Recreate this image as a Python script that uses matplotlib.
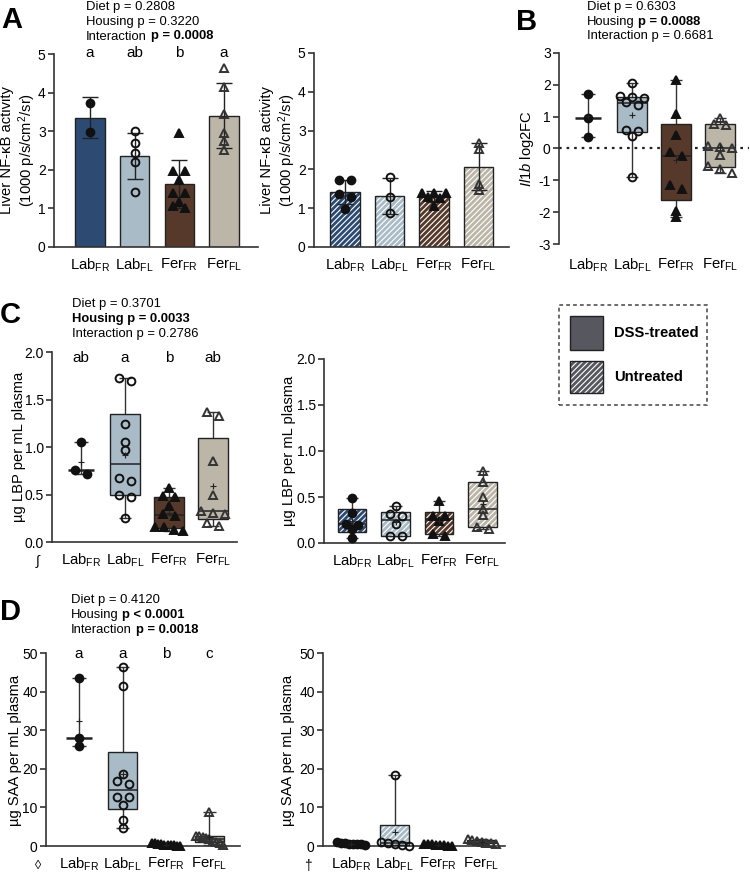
import numpy as np
import matplotlib
matplotlib.use('Agg')
import matplotlib.pyplot as plt
from matplotlib.patches import Rectangle
from matplotlib import transforms as mtrans

plt.rcParams['font.family'] = ['Liberation Sans', 'DejaVu Sans']
plt.rcParams['mathtext.fontset'] = 'custom'
plt.rcParams['mathtext.rm'] = 'Liberation Sans'
plt.rcParams['mathtext.it'] = 'Liberation Sans:italic'
plt.rcParams['mathtext.bf'] = 'Liberation Sans:bold'
plt.rcParams['axes.unicode_minus'] = False
plt.rcParams['hatch.linewidth'] = 0.8

# ---------------- data ----------------
categories = ['Lab$_\\mathregular{FR}$', 'Lab$_\\mathregular{FL}$',
              'Fer$_\\mathregular{FR}$', 'Fer$_\\mathregular{FL}$']
colors = ['#2d4a73', '#a8bbc7', '#56392a', '#bcb6a8']

# Panel A: liver NF-kB activity (bars = mean, error = SD)
a_dss_labfr = [3.72, 2.98]
a_dss_labfl = [3.00, 2.70, 2.44, 2.20, 1.43]
a_dss_ferfr = [2.96, 1.98, 1.98, 1.73, 1.41, 1.41, 1.17, 1.06, 1.00]
a_dss_ferfl = [4.63, 4.14, 3.45, 2.95, 2.75, 2.52]
a_un_labfr = [1.72, 1.72, 1.37, 1.28, 0.98]
a_un_labfl = [1.80, 1.29, 0.87]
a_un_ferfr = [1.40, 1.40, 1.40, 1.28, 1.25, 1.06]
a_un_ferfl = [2.67, 2.53, 1.62, 1.47]
a_letters = ['a', 'ab', 'b', 'a']
a_yticks = [0, 1, 2, 3, 4, 5]

# Panel B: Il1b log2FC
b_labfr = [1.70, 0.97, 0.35]
b_labfl = [2.05, 1.64, 1.63, 1.60, 1.47, 1.38, 0.57, 0.55, 0.38, -0.88]
b_ferfr = [2.14, 1.08, 0.43, -0.12, -0.22, -1.14, -1.26, -1.97, -2.16]
b_ferfl = [0.97, 0.78, 0.75, 0.09, 0.05, 0.01, -0.20, -0.55, -0.64, -0.76]
b_yticks = [-3, -2, -1, 0, 1, 2, 3]

# Panel C: LBP
c_dss_labfr = [1.05, 0.76, 0.72]
c_dss_labfl = [1.73, 1.69, 1.24, 1.05, 0.97, 0.67, 0.64, 0.50, 0.47, 0.25]
c_dss_ferfr = [0.57, 0.48, 0.47, 0.38, 0.30, 0.27, 0.16, 0.16, 0.13, 0.12]
c_dss_ferfl = [1.37, 1.33, 0.85, 0.50, 0.33, 0.31, 0.29, 0.20, 0.17]
c_un_labfr = [0.49, 0.33, 0.21, 0.20, 0.15, 0.05]
c_un_labfl = [0.40, 0.31, 0.29, 0.21, 0.08, 0.08]
c_un_ferfr = [0.46, 0.29, 0.29, 0.24, 0.10, 0.08]
c_un_ferfl = [0.78, 0.66, 0.50, 0.37, 0.30, 0.17, 0.15]
c_letters = ['ab', 'a', 'b', 'ab']
c_yticks = [0.0, 0.5, 1.0, 1.5, 2.0]

# Panel D: SAA
d_dss_labfr = [43.4, 27.85, 25.95]
d_dss_labfl = [46.3, 41.5, 18.6, 16.95, 16.0, 12.8, 12.8, 10.5, 6.75, 4.6]
d_dss_ferfr = [0.9, 0.7, 0.5, 0.45, 0.35, 0.3, 0.2, 0.15, 0.1, 0.05]
d_dss_ferfl = [8.8, 2.7, 2.5, 2.3, 2.0, 1.8, 1.4, 1.1, 0.9, 0.2]
d_un_labfr = [1.0, 0.8, 0.7, 0.6, 0.5, 0.5, 0.4, 0.3]
d_un_labfl = [18.4, 1.1, 0.9, 0.6, 0.3, 0.1]
d_un_ferfr = [0.6, 0.5, 0.4, 0.3, 0.3, 0.2, 0.1, 0.05]
d_un_ferfl = [1.8, 1.5, 1.2, 1.0, 0.9, 0.7, 0.5]
d_letters = ['a', 'a', 'b', 'c']
d_yticks = [0, 10, 20, 30, 40, 50]

p_A = [[('Diet p = 0.2808', False)], [('Housing p = 0.3220', False)],
       [('Interaction', False), ('p = 0.0008', True)]]
p_B = [[('Diet p = 0.6303', False)], [('Housing', False), ('p = 0.0088', True)],
       [('Interaction p = 0.6681', False)]]
p_C = [[('Diet p = 0.3701', False)], [('Housing p = 0.0033', True)],
       [('Interaction p = 0.2786', False)]]
p_D = [[('Diet p = 0.4120', False)], [('Housing', False), ('p < 0.0001', True)],
       [('Interaction', False), ('p = 0.0018', True)]]

# ---------------- styling ----------------
W, H = 750, 872
fig = plt.figure(figsize=(W / 100, H / 100), dpi=100)
EC = '#222222'
SPC = '#333333'
TICK_FS = 10
CAT_FS = 10.7
LAB_FS = 10.6
P_FS = 9.4
markers = [dict(marker='o', mfc='#111111', mec='#111111'),
           dict(marker='o', mfc='none', mec='#111111'),
           dict(marker='^', mfc='#111111', mec='#111111'),
           dict(marker='^', mfc='none', mec='#333333')]


def mk_ax(x0, x1, yt, yb, c0, sp, ylim, yticks, yticklabels, bottom_spine=True):
    ax = fig.add_axes([x0 / W, 1 - yb / H, (x1 - x0) / W, (yb - yt) / H])
    ax.set_xlim((x0 - c0) / sp, (x1 - c0) / sp)
    ax.set_ylim(*ylim)
    for s in ['top', 'right']:
        ax.spines[s].set_visible(False)
    ax.spines['left'].set_color(SPC)
    ax.spines['left'].set_linewidth(1.2)
    ax.spines['bottom'].set_color(SPC)
    ax.spines['bottom'].set_linewidth(1.2)
    if not bottom_spine:
        ax.spines['bottom'].set_visible(False)
    ax.set_yticks(yticks)
    ax.set_yticklabels(yticklabels, fontsize=TICK_FS)
    ax.tick_params(axis='y', length=4, width=1.2, color=SPC, pad=2)
    ax.set_xticks(range(4))
    ax.set_xticklabels(categories, fontsize=CAT_FS)
    ax.tick_params(axis='x', length=0, pad=7)
    ax._px = (sp, (yb - yt) / (ylim[1] - ylim[0]))
    return ax


def swarm_x(ax, vals, center, spacing=12.0, maxw=28.0, thresh=4.0):
    ppx, ppy = ax._px
    v = np.asarray(vals, float)
    order = np.argsort(-v)
    xs = np.zeros(len(v))
    clusters = []
    cur = [order[0]]
    for k in order[1:]:
        if (v[cur[-1]] - v[k]) * ppy < thresh:
            cur.append(k)
        else:
            clusters.append(cur)
            cur = [k]
    clusters.append(cur)
    for cl in clusters:
        m = len(cl)
        s = spacing if m == 1 else min(spacing, maxw / (m - 1))
        offs = (np.arange(m) - (m - 1) / 2) * s
        for k, o in zip(cl, offs):
            xs[k] = center + o / ppx
    return xs


def points(ax, i, vals, maxw=28.0):
    xs = swarm_x(ax, vals, i, maxw=maxw)
    ax.plot(xs, vals, ls='none', ms=5.6, mew=1.4, zorder=5, clip_on=False, **markers[i])


def bar_group(ax, groups, hatched):
    bw = 0.66
    for i, vals in enumerate(groups):
        v = np.asarray(vals)
        m, sd = v.mean(), v.std(ddof=1)
        if hatched:
            ax.bar(i, m, width=bw, color=colors[i], edgecolor='white', hatch='//////', lw=0, zorder=1)
            ax.bar(i, m, width=bw, fill=False, edgecolor=EC, lw=1.0, zorder=2)
        else:
            ax.bar(i, m, width=bw, color=colors[i], edgecolor=EC, lw=1.0, zorder=1)
        ax.errorbar(i, m, yerr=sd, fmt='none', ecolor=EC, elinewidth=1.0, capsize=5.5, capthick=1.0, zorder=3)
        points(ax, i, vals, maxw=26)


def box_group(ax, groups, hatched):
    bw = 0.66
    for i, vals in enumerate(groups):
        v = np.asarray(vals, float)
        mn, mx, mean = v.min(), v.max(), v.mean()
        if len(v) <= 3:
            med = np.median(v)
            ax.vlines(i, mn, mx, color=SPC, lw=1.0, zorder=2)
            ax.hlines([mn, mx], i - 0.16, i + 0.16, color=SPC, lw=1.0, zorder=2)
            ax.hlines(med, i - 0.30, i + 0.30, color=EC, lw=1.8, zorder=3)
            ax.plot(i, mean, marker='+', color=EC, ms=5, mew=0.8, zorder=6)
        else:
            q1, med, q3 = np.percentile(v, [25, 50, 75], method='weibull')
            ax.vlines(i, mn, mx, color=SPC, lw=1.0, zorder=1)
            ax.hlines([mn, mx], i - 0.14, i + 0.14, color=SPC, lw=1.0, zorder=1)
            if hatched:
                ax.bar(i, q3 - q1, bottom=q1, width=bw, color=colors[i], edgecolor='white',
                       hatch='//////', lw=0, zorder=2)
                ax.bar(i, q3 - q1, bottom=q1, width=bw, fill=False, edgecolor=EC, lw=1.0, zorder=3)
            else:
                ax.bar(i, q3 - q1, bottom=q1, width=bw, color=colors[i], edgecolor=EC, lw=1.0, zorder=2)
            ax.hlines(med, i - bw / 2, i + bw / 2, color=EC, lw=1.1, zorder=3)
            ax.plot(i, mean, marker='+', color=EC, ms=5, mew=0.8, zorder=6)
        points(ax, i, vals, maxw=28)


def sig_letters(ax, letters, base_px):
    tr = mtrans.blended_transform_factory(ax.transData, fig.transFigure)
    for i, l in enumerate(letters):
        ax.text(i, 1 - base_px / H, l, transform=tr, ha='center', va='baseline', fontsize=11)


renderer = fig.canvas.get_renderer()


def ptext(x_px, base_pxs, lines):
    space = 0.278 * P_FS * 100 / 72
    for yb, parts in zip(base_pxs, lines):
        x = x_px
        for s, b in parts:
            t = fig.text(x / W, 1 - yb / H, s, fontsize=P_FS, fontweight='bold' if b else 'normal',
                         ha='left', va='baseline')
            bb = t.get_window_extent(renderer)
            x = bb.x1 + space


def ftext(x_px, y_px, s, **kw):
    return fig.text(x_px / W, 1 - y_px / H, s, **kw)


# ---------------- Panel A ----------------
axA1 = mk_ax(54, 258, 54, 247, 90, 44.7, (0, 5), a_yticks, [str(t) for t in a_yticks])
bar_group(axA1, [a_dss_labfr, a_dss_labfl, a_dss_ferfr, a_dss_ferfl], hatched=False)
sig_letters(axA1, a_letters, 57)
axA2 = mk_ax(314, 509, 53, 247, 345, 44.5, (0, 5), a_yticks, [str(t) for t in a_yticks])
bar_group(axA2, [a_un_labfr, a_un_labfl, a_un_ferfr, a_un_ferfl], hatched=True)
ylabA = 'Liver NF-\u03baB activity\n(1000 p/s/cm$^2$/sr)'
ftext(19, 150, ylabA, rotation=90, ha='center', va='center', fontsize=LAB_FS, linespacing=1.1)
ftext(279, 150, ylabA, rotation=90, ha='center', va='center', fontsize=LAB_FS, linespacing=1.1)
ftext(1, 28, 'A', fontsize=21, fontweight='bold', ha='left', va='baseline')
ptext(86, [10, 25, 39.5], p_A)

# ---------------- Panel B ----------------
axB = mk_ax(559, 749, 53, 244, 588, 44, (-3, 3), b_yticks, [str(t) for t in b_yticks],
            bottom_spine=False)
axB.tick_params(axis='x', pad=9)
axB.axhline(0, color=EC, lw=1.6, ls=(0, (1.2, 2.2)), zorder=0.5)
box_group(axB, [b_labfr, b_labfl, b_ferfr, b_ferfl], hatched=False)
ftext(527, 149, '$\\mathit{Il1b}$ log2FC', rotation=90, ha='center', va='center', fontsize=LAB_FS)
ftext(516, 30, 'B', fontsize=21, fontweight='bold', ha='left', va='baseline')
ptext(587, [10, 25, 39.5], p_B)

# ---------------- Legend ----------------
fig.patches.append(Rectangle((559 / W, 1 - 405 / H), 148 / W, 100 / H, transform=fig.transFigure,
                             fill=False, ec='#444444', lw=1.1, ls=(0, (2.5, 2))))
fig.patches.append(Rectangle((570 / W, 1 - 350 / H), 33 / W, 34 / H, transform=fig.transFigure,
                             fc='#56575f', ec=EC, lw=1.0))
fig.patches.append(Rectangle((570 / W, 1 - 393 / H), 33 / W, 32 / H, transform=fig.transFigure,
                             fc='#56575f', ec='white', hatch='//////', lw=0))
fig.patches.append(Rectangle((570 / W, 1 - 393 / H), 33 / W, 32 / H, transform=fig.transFigure,
                             fill=False, ec=EC, lw=1.0))
ftext(614, 333, 'DSS-treated', fontsize=10.6, fontweight='bold', ha='left', va='center')
ftext(614, 377, 'Untreated', fontsize=10.6, fontweight='bold', ha='left', va='center')

# ---------------- Panel C ----------------
c_lbl = ['%.1f' % t for t in c_yticks]
axC1 = mk_ax(52, 237, 352, 542, 81, 44, (0, 2), c_yticks, c_lbl)
box_group(axC1, [c_dss_labfr, c_dss_labfl, c_dss_ferfr, c_dss_ferfl], hatched=False)
sig_letters(axC1, c_letters, 362)
axC2 = mk_ax(324, 505, 359, 543, 352, 43.5, (0, 2), c_yticks, c_lbl)
box_group(axC2, [c_un_labfr, c_un_labfl, c_un_ferfr, c_un_ferfl], hatched=True)
ylabC = '\u00b5g LBP per mL plasma'
ftext(19, 447, ylabC, rotation=90, ha='center', va='center', fontsize=LAB_FS)
ftext(289, 451, ylabC, rotation=90, ha='center', va='center', fontsize=LAB_FS)
ftext(0, 323, 'C', fontsize=21, fontweight='bold', ha='left', va='baseline')
ptext(72, [307, 322, 337], p_C)
ftext(38, 560, '\u222b', fontsize=10, ha='center', va='center')

# ---------------- Panel D ----------------
d_lbl = [str(t) for t in d_yticks]
axD1 = mk_ax(46, 240, 653, 846, 79, 43.5, (0, 50), d_yticks, d_lbl)
box_group(axD1, [d_dss_labfr, d_dss_labfl, d_dss_ferfr, d_dss_ferfl], hatched=False)
sig_letters(axD1, d_letters, 658)
axD2 = mk_ax(323, 505, 653, 846, 351, 43.5, (0, 50), d_yticks, d_lbl)
box_group(axD2, [d_un_labfr, d_un_labfl, d_un_ferfr, d_un_ferfl], hatched=True)
ylabD = '\u00b5g SAA per mL plasma'
ftext(15, 750, ylabD, rotation=90, ha='center', va='center', fontsize=LAB_FS)
ftext(288, 750, ylabD, rotation=90, ha='center', va='center', fontsize=LAB_FS)
ftext(0, 620, 'D', fontsize=21, fontweight='bold', ha='left', va='baseline')
ptext(71, [603, 618, 633], p_D)
ftext(38, 866, '\u25ca', fontsize=9, ha='center', va='center')
ftext(308, 866, '\u2020', fontsize=10, ha='center', va='center')

fig.savefig('out.png', dpi=100)
